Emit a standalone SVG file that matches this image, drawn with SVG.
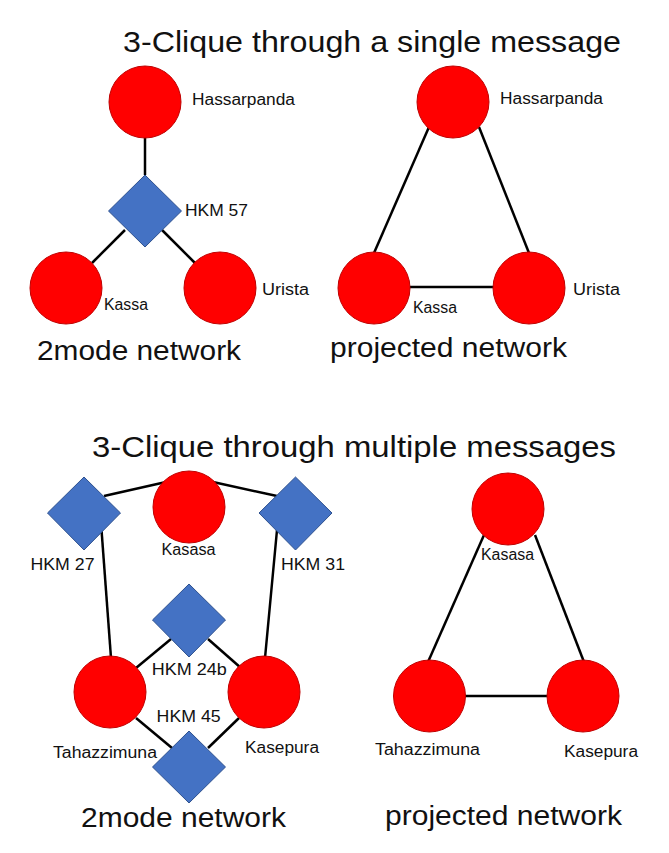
<svg xmlns="http://www.w3.org/2000/svg" width="669" height="853" viewBox="0 0 669 853">
<style>
.p{fill:#FF0000;stroke:#C00000;stroke-width:1}
.m{fill:#4472C4;stroke:#2F528F;stroke-width:1}
.e{stroke:#000;stroke-width:2.5;fill:none}
text{font-family:"Liberation Sans",Arial,sans-serif;fill:#111}
.t{font-size:30px}
.s{font-size:27px}
.l{font-size:16px}
</style>
<rect width="669" height="853" fill="#fff"/>
<text class="t" x="123" y="52" textLength="498" lengthAdjust="spacingAndGlyphs">3-Clique through a single message</text>
<text class="t" x="92" y="457" textLength="524" lengthAdjust="spacingAndGlyphs">3-Clique through multiple messages</text>
<g id="connectors">
<line class="e" x1="145" y1="137" x2="145" y2="175"/>
<line class="e" x1="125" y1="230" x2="92" y2="263"/>
<line class="e" x1="162" y1="230" x2="196" y2="264"/>
<line class="e" x1="429" y1="127" x2="374" y2="253"/>
<line class="e" x1="479" y1="127" x2="529" y2="253"/>
<line class="e" x1="410" y1="287" x2="494" y2="287"/>
<line class="e" x1="104" y1="496" x2="166" y2="482"/>
<line class="e" x1="213" y1="482" x2="277" y2="496"/>
<line class="e" x1="101" y1="523" x2="111" y2="658"/>
<line class="e" x1="277" y1="530" x2="265" y2="658"/>
<line class="e" x1="171" y1="639" x2="136" y2="668"/>
<line class="e" x1="208" y1="639" x2="241" y2="668"/>
<line class="e" x1="136" y1="718" x2="172" y2="748"/>
<line class="e" x1="239" y1="718" x2="208" y2="748"/>
<line class="e" x1="484" y1="535" x2="428" y2="662"/>
<line class="e" x1="535" y1="535" x2="584" y2="662"/>
<line class="e" x1="465" y1="696" x2="548" y2="696"/>
</g>
<g id="n-hassarpanda-a"><circle class="p" cx="145" cy="102" r="36"/><text class="l" x="192" y="105" textLength="103" lengthAdjust="spacingAndGlyphs">Hassarpanda</text></g>
<g id="n-hkm57"><polygon class="m" points="145,175 181.5,211 145,247 108.5,211"/><text class="l" x="185" y="216" textLength="63" lengthAdjust="spacingAndGlyphs">HKM 57</text></g>
<g id="n-kassa-a"><circle class="p" cx="66" cy="288" r="36"/><text class="l" x="104" y="310" textLength="44" lengthAdjust="spacingAndGlyphs">Kassa</text></g>
<g id="n-urista-a"><circle class="p" cx="220" cy="288" r="36"/><text class="l" x="262" y="295" textLength="47" lengthAdjust="spacingAndGlyphs">Urista</text></g>
<text class="s" x="37" y="360" textLength="204" lengthAdjust="spacingAndGlyphs">2mode network</text>
<g id="n-hassarpanda-b"><circle class="p" cx="453" cy="102" r="36"/><text class="l" x="500" y="104" textLength="103" lengthAdjust="spacingAndGlyphs">Hassarpanda</text></g>
<g id="n-kassa-b"><circle class="p" cx="374" cy="288" r="36"/><text class="l" x="413" y="313" textLength="44" lengthAdjust="spacingAndGlyphs">Kassa</text></g>
<g id="n-urista-b"><circle class="p" cx="529" cy="288" r="36"/><text class="l" x="573" y="295" textLength="47" lengthAdjust="spacingAndGlyphs">Urista</text></g>
<text class="s" x="330" y="357" textLength="237" lengthAdjust="spacingAndGlyphs">projected network</text>
<g id="n-kasasa-a"><circle class="p" cx="189" cy="507" r="36"/><text class="l" x="161.5" y="555" textLength="54" lengthAdjust="spacingAndGlyphs">Kasasa</text></g>
<g id="n-hkm27"><polygon class="m" points="84,477 120.5,513 84,550 47.5,513"/><text class="l" x="30.5" y="570" textLength="64" lengthAdjust="spacingAndGlyphs">HKM 27</text></g>
<g id="n-hkm31"><polygon class="m" points="295.5,477 332,513 295.5,550 259,513"/><text class="l" x="281" y="570" textLength="64" lengthAdjust="spacingAndGlyphs">HKM 31</text></g>
<g id="n-hkm24b"><polygon class="m" points="189,584 225.5,620 189,657 152.5,620"/><text class="l" x="151.7" y="675" textLength="75" lengthAdjust="spacingAndGlyphs">HKM 24b</text></g>
<g id="n-tahazzimuna-a"><circle class="p" cx="110" cy="692" r="36"/><text class="l" x="53" y="758" textLength="104" lengthAdjust="spacingAndGlyphs">Tahazzimuna</text></g>
<g id="n-kasepura-a"><circle class="p" cx="264" cy="692" r="36"/><text class="l" x="245" y="753" textLength="74" lengthAdjust="spacingAndGlyphs">Kasepura</text></g>
<g id="n-hkm45"><polygon class="m" points="189,731 225.5,767 189,803 152.5,767"/><text class="l" x="156.6" y="722" textLength="64" lengthAdjust="spacingAndGlyphs">HKM 45</text></g>
<text class="s" x="81" y="827" textLength="205" lengthAdjust="spacingAndGlyphs">2mode network</text>
<g id="n-kasasa-b"><circle class="p" cx="508" cy="509" r="36"/><text class="l" x="481" y="560" textLength="53" lengthAdjust="spacingAndGlyphs">Kasasa</text></g>
<g id="n-tahazzimuna-b"><circle class="p" cx="429.5" cy="696" r="36"/><text class="l" x="375" y="755" textLength="105" lengthAdjust="spacingAndGlyphs">Tahazzimuna</text></g>
<g id="n-kasepura-b"><circle class="p" cx="583" cy="696" r="36"/><text class="l" x="564" y="757" textLength="74" lengthAdjust="spacingAndGlyphs">Kasepura</text></g>
<text class="s" x="385" y="825" textLength="237" lengthAdjust="spacingAndGlyphs">projected network</text>
</svg>
